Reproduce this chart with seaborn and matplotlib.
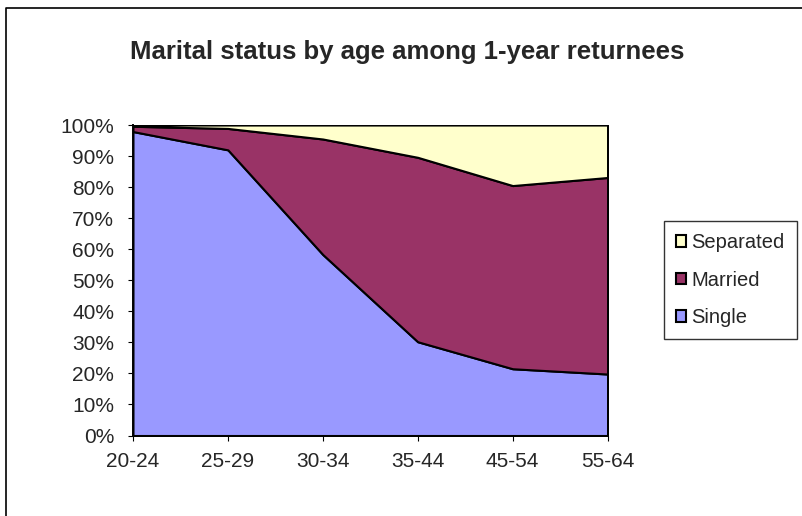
import matplotlib
matplotlib.use("Agg")
import matplotlib.pyplot as plt
import seaborn as sns
from matplotlib.patches import Patch
from matplotlib.lines import Line2D

## data (percent of each age group)
ages = ["20-24", "25-29", "30-34", "35-44", "45-54", "55-64"]
single = [97.9, 92.0, 58.3, 30.2, 21.5, 19.8]
married = [1.7, 6.9, 37.2, 59.4, 59.0, 63.3]
separated = [0.4, 1.1, 4.5, 10.4, 19.5, 16.9]

sns.set_theme(style="white")
plt.rcParams["font.family"] = ["Liberation Sans", "DejaVu Sans"]

colors = ["#9999FF", "#993366", "#FFFFCC"]

fig = plt.figure(figsize=(8.03, 5.16), dpi=100)
ax = fig.add_axes([0.1656, 0.156, 0.591, 0.6017])

x = list(range(len(ages)))
ax.stackplot(x, single, married, separated, colors=colors,
             edgecolor="black", linewidth=1.5)

ax.set_xlim(0, len(ages) - 1)
ax.set_ylim(0, 100)
ax.set_xticks(x)
ax.set_xticklabels(ages)
ax.set_yticks(range(0, 101, 10))
ax.set_yticklabels([f"{v}%" for v in range(0, 101, 10)])
ax.tick_params(axis="both", labelsize=15, direction="out", length=3.6,
               width=0.8, color="black", bottom=True, left=True)
ax.tick_params(axis="y", pad=10)
ax.tick_params(axis="x", pad=8)

for side in ["top", "right"]:
    ax.spines[side].set_visible(False)
for side in ["left", "bottom"]:
    ax.spines[side].set_color("black")
    ax.spines[side].set_linewidth(1.4)

fig.text(0.507, 0.9, "Marital status by age among 1-year returnees",
         ha="center", va="center", fontsize=18.5, fontweight="bold")

handles = [Patch(facecolor=colors[2], edgecolor="black", linewidth=1.5, label="Separated"),
           Patch(facecolor=colors[1], edgecolor="black", linewidth=1.5, label="Married"),
           Patch(facecolor=colors[0], edgecolor="black", linewidth=1.5, label="Single")]
leg = fig.legend(handles=handles, loc="upper left",
                 bbox_to_anchor=(664 / 803, 1 - 221 / 516), borderaxespad=0,
                 fontsize=14.5, handlelength=0.5, handleheight=0.5,
                 handletextpad=0.25, labelspacing=0.92, borderpad=0.6,
                 fancybox=False, frameon=True)
leg.get_frame().set_edgecolor("black")
leg.get_frame().set_linewidth(1)

# chart frame, only its top and left edges show in the picture
fig.lines.append(Line2D([6 / 803, 6 / 803, 1.0], [0.0, 1 - 8 / 516, 1 - 8 / 516],
                        transform=fig.transFigure, color="black", linewidth=1.2))

fig.savefig("out.png", dpi=100)
